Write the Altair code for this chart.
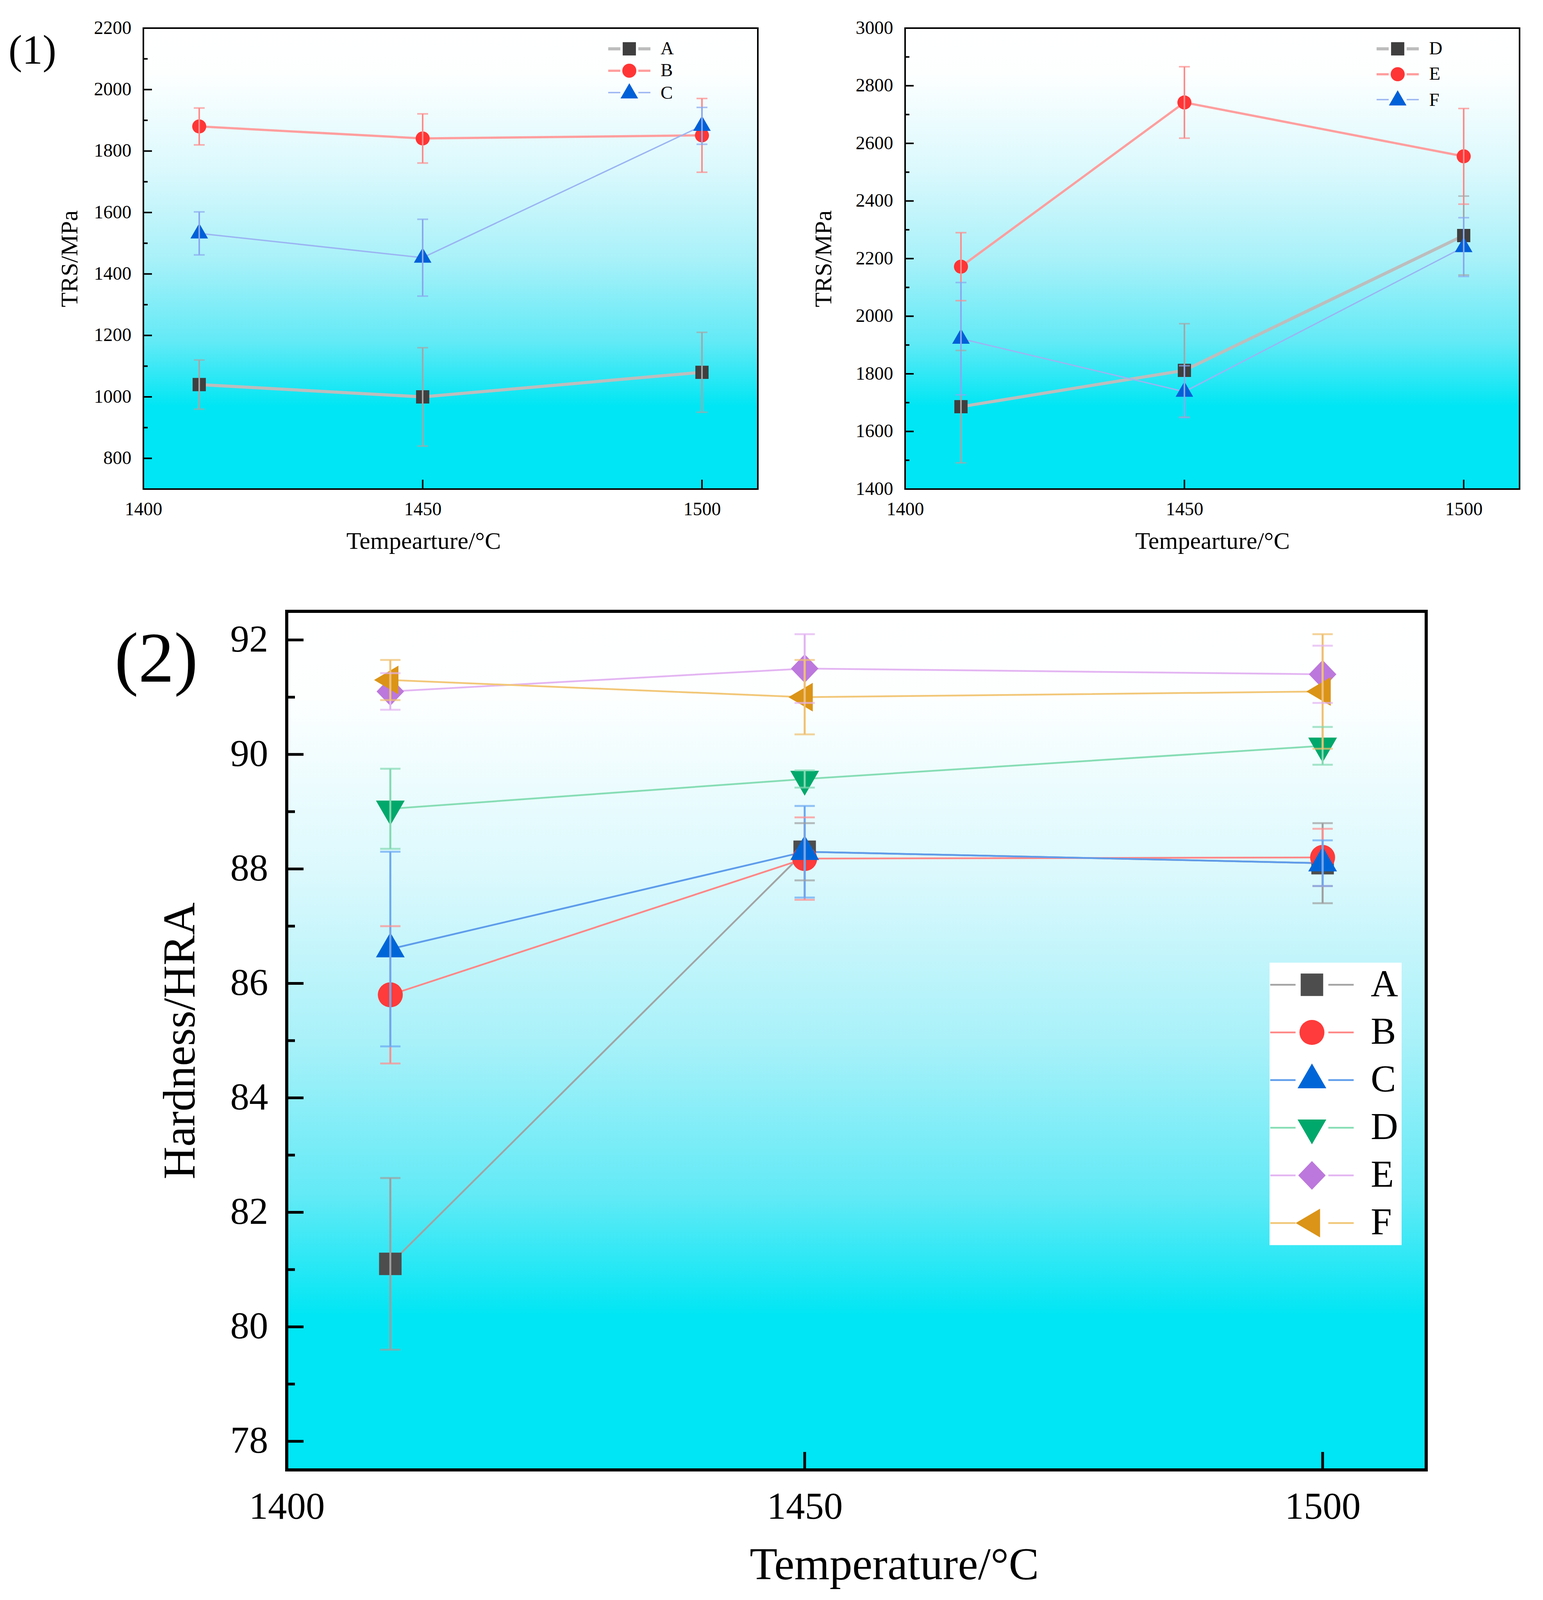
import altair as alt
import pandas as pd

FONT = "Liberation Serif"

# ---------------- data ----------------
temps = [1410, 1450, 1500]
x_ticks = [1400, 1450, 1500]

# (1) left panel : TRS of A, B, C
trs_left_series = ["A", "B", "C"]
trs_A = [1040, 1000, 1080]
trs_A_err = [80, 160, 130]
trs_B = [1880, 1841, 1851]
trs_B_err = [60, 80, 120]
trs_C = [1532, 1453, 1882]
trs_C_err = [70, 125, 60]

# (1) right panel : TRS of D, E, F
trs_right_series = ["D", "E", "F"]
trs_D = [1686, 1812, 2280]
trs_D_err = [195, 162, 137]
trs_E = [2172, 2742, 2555]
trs_E_err = [118, 124, 166]
trs_F = [1922, 1738, 2240]
trs_F_err = [195, 90, 102]

# (2) hardness of A..F
hard_series = ["A", "B", "C", "D", "E", "F"]
hra_A = [81.1, 88.3, 88.1]
hra_A_err = [1.5, 0.5, 0.7]
hra_B = [85.8, 88.18, 88.2]
hra_B_err = [1.2, 0.72, 0.5]
hra_C = [86.6, 88.3, 88.1]
hra_C_err = [1.7, 0.8, 0.4]
hra_D = [89.05, 89.57, 90.15]
hra_D_err = [0.7, 0.15, 0.33]
hra_E = [91.1, 91.5, 91.4]
hra_E_err = [0.32, 0.6, 0.5]
hra_F = [91.3, 91.0, 91.1]
hra_F_err = [0.35, 0.65, 1.0]

trs_left_major = [800, 1000, 1200, 1400, 1600, 1800, 2000, 2200]
trs_left_minor = [900, 1100, 1300, 1500, 1700, 1900, 2100]
trs_right_major = [1400, 1600, 1800, 2000, 2200, 2400, 2600, 2800, 3000]
trs_right_minor = [1500, 1700, 1900, 2100, 2300, 2500, 2700, 2900]
hra_major = [78, 80, 82, 84, 86, 88, 90, 92]
hra_minor = [79, 81, 83, 85, 87, 89, 91]


def long_df(series, values, errors):
    rows = []
    for s, vals, errs in zip(series, values, errors):
        for t, v, e in zip(temps, vals, errs):
            rows.append({"series": s, "T": t, "val": v, "lo": v - e, "hi": v + e})
    return pd.DataFrame(rows)


df_left = long_df(trs_left_series, [trs_A, trs_B, trs_C], [trs_A_err, trs_B_err, trs_C_err])
df_right = long_df(trs_right_series, [trs_D, trs_E, trs_F], [trs_D_err, trs_E_err, trs_F_err])
df_hra = long_df(hard_series, [hra_A, hra_B, hra_C, hra_D, hra_E, hra_F],
                 [hra_A_err, hra_B_err, hra_C_err, hra_D_err, hra_E_err, hra_F_err])

# ---------------- styles ----------------
GRAD = alt.LinearGradient(
    gradient="linear", x1=0, x2=0, y1=0, y2=1,
    stops=[alt.GradientStop(offset=o, color=c) for o, c in [
        (0.0, "#FFFFFF"), (0.1, "#FDFFFF"), (0.3, "#DCF9FD"), (0.5, "#A9F1F9"),
        (0.68, "#62EAF6"), (0.82, "#00E6F4"), (1.0, "#00E6F4")]])

SQ_S = "M-0.94,-0.94H0.94V0.94H-0.94Z"
TRI_S = "M0,-1.44L1.25,0.72L-1.25,0.72Z"
SQ_L = "M-0.9,-0.9H0.9V0.9H-0.9Z"
TRI_UP = "M0,-1.33L1.15,0.66L-1.15,0.66Z"
TRI_DN = "M0,1.33L1.15,-0.66L-1.15,-0.66Z"
DIAM = "M0,-1.15L1.1,0L0,1.15L-1.1,0Z"
TRI_LT = "M-1.3,0L0.65,-1.15L0.65,1.15Z"

style_left = dict(
    W=1573, H=1180, ydomain=[700, 2200], ymajor=trs_left_major, yminor=trs_left_minor,
    xtitle="Tempearture/°C", ytitle="TRS/MPa",
    lab=48, tit=62, xlabpad=28, ylabpad=31, xtitpad=27, ytitpad=30, titleX=717,
    tmaj=22, tmin=11, tw=4, txl=24, fw=4,
    line_colors=["#BDBDBD", "#FF9E9E", "#9BB4F2"], line_widths=[8, 3.5, 3.5],
    mk_colors=["#3F3F3F", "#FF3535", "#0060D8"], shapes=[SQ_S, "circle", TRI_S], psize=1296,
    eb_colors=["#A6A6A6", "#FF8A8A", "#8AA8EE"], ebw=4, capw=28, capt=4,
    legX=1220.5, legY=29.5, legPad=0, rowPad=8, legFont=47, labOff=56.5, symOff=0,
    legLine="M-3.0,0H-1.28M1.28,0H3.0", legLineW=3.5, legFill=None,
    tag="(1)", tagX=-284, tagY=59, tagSize=105,
)

style_right = dict(style_left)
style_right.update(
    ydomain=[1400, 3000], ymajor=trs_right_major, yminor=trs_right_minor,
    ytitpad=50, titleX=None, legX=1237.5, legY=29.5, rowPad=17, labOff=57, tag=None,
)

style_hra = dict(
    W=2917, H=2198, ydomain=[77.5, 92.5], ymajor=hra_major, yminor=hra_minor,
    xtitle="Temperature/°C", ytitle="Hardness/HRA",
    lab=97, tit=116, xlabpad=47, ylabpad=48, xtitpad=44, ytitpad=68, titleX=1555,
    tmaj=43, tmin=21, tw=7, txl=46, fw=8,
    line_colors=["#A3A3A3", "#FF8787", "#5E9CEB", "#86DDB5", "#E3B5F2", "#F2C778"],
    line_widths=[4.5, 4.5, 4.5, 4.5, 4.5, 4.5],
    mk_colors=["#4D4D4D", "#FF3B3B", "#0066D8", "#00A86B", "#BC78DC", "#DB9417"],
    shapes=[SQ_L, "circle", TRI_UP, TRI_DN, DIAM, TRI_LT], psize=4096,
    eb_colors=["#9E9E9E", "#FF8F8F", "#6AA8F2", "#82D9B2", "#E2B3F2", "#F0C070"],
    ebw=5, capw=52, capt=5,
    legX=2516, legY=899.5, legPad=8, rowPad=24, legFont=97, labOff=102, symOff=52,
    legLine="M-3.34,0H-1.31M1.31,0H3.34", legLineW=6.5, legFill="white",
    tag="(2)", tagX=-334, tagY=125, tagSize=183,
)


def panel(df, series, st):
    W, H = st["W"], st["H"]
    one = pd.DataFrame({"k": [0]})
    xs = alt.Scale(domain=[1400, 1510], nice=False, zero=False)
    ys = alt.Scale(domain=st["ydomain"], nice=False, zero=False)
    xkw = dict(title=st["xtitle"], values=x_ticks, format="d", ticks=False, domain=False, grid=False,
               labelFont=FONT, labelFontSize=st["lab"], labelColor="black", labelPadding=st["xlabpad"],
               labelFlush=False, labelOverlap=False, labelLimit=600,
               titleFont=FONT, titleFontSize=st["tit"], titleFontWeight="normal", titleColor="black",
               titlePadding=st["xtitpad"])
    if st["titleX"] is not None:
        xkw["titleX"] = st["titleX"]
    ax_x = alt.Axis(**xkw)
    ax_y = alt.Axis(title=st["ytitle"], values=st["ymajor"], format="d", ticks=False, domain=False, grid=False,
                    labelFont=FONT, labelFontSize=st["lab"], labelColor="black", labelPadding=st["ylabpad"],
                    labelOverlap=False, labelLimit=600,
                    titleFont=FONT, titleFontSize=st["tit"], titleFontWeight="normal", titleColor="black",
                    titlePadding=st["ytitpad"])
    X = alt.X("T:Q", scale=xs, axis=ax_x)

    bg = alt.Chart(one).mark_rect(fill=GRAD).encode(
        x=alt.value(0), x2=alt.value(W), y=alt.value(0), y2=alt.value(H))

    ymaj = alt.Chart(pd.DataFrame({"v": st["ymajor"]})).mark_rule(color="black", strokeWidth=st["tw"]).encode(
        y=alt.Y("v:Q", scale=ys, axis=ax_y), x=alt.value(0), x2=alt.value(st["tmaj"]))
    ymin = alt.Chart(pd.DataFrame({"v": st["yminor"]})).mark_rule(color="black", strokeWidth=st["tw"]).encode(
        y=alt.Y("v:Q", scale=ys, axis=ax_y), x=alt.value(0), x2=alt.value(st["tmin"]))
    xt = alt.Chart(pd.DataFrame({"v": x_ticks})).mark_rule(color="black", strokeWidth=st["tw"]).encode(
        x=alt.X("v:Q", scale=xs, axis=ax_x), y=alt.value(H), y2=alt.value(H - st["txl"]))

    common_leg = dict(title=None, orient="none", legendX=st["legX"], legendY=st["legY"],
                      padding=st["legPad"], rowPadding=st["rowPad"], labelFont=FONT,
                      labelFontSize=st["legFont"], labelOffset=st["labOff"], symbolOffset=st["symOff"],
                      symbolSize=st["psize"])
    line_leg_kw = dict(common_leg, symbolType=st["legLine"], symbolStrokeWidth=st["legLineW"],
                       labelOpacity=0, labelColor="black")
    if st["legFill"]:
        line_leg_kw["fillColor"] = st["legFill"]
    line_leg = alt.Legend(**line_leg_kw)
    pt_leg = alt.Legend(**common_leg, symbolStrokeWidth=0, labelColor="black", symbolOpacity=1)

    lines = alt.Chart(df).mark_line().encode(
        x=X, y=alt.Y("val:Q", scale=ys, axis=ax_y),
        color=alt.Color("series:N", scale=alt.Scale(domain=series, range=st["line_colors"]), legend=line_leg),
        strokeWidth=alt.StrokeWidth("series:N", scale=alt.Scale(domain=series, range=st["line_widths"]),
                                    legend=None),
    )
    pts = alt.Chart(df).mark_point(filled=True, opacity=1, size=st["psize"]).encode(
        x=X, y=alt.Y("val:Q", scale=ys, axis=ax_y),
        color=alt.Color("series:N", scale=alt.Scale(domain=series, range=st["mk_colors"]), legend=pt_leg),
        shape=alt.Shape("series:N", scale=alt.Scale(domain=series, range=st["shapes"]), legend=pt_leg),
    )
    eb_color = alt.Color("series:N", scale=alt.Scale(domain=series, range=st["eb_colors"]), legend=None)
    eb = alt.Chart(df).mark_rule(strokeWidth=st["ebw"]).encode(
        x=X, y=alt.Y("lo:Q", scale=ys, axis=ax_y), y2=alt.Y2("hi:Q"), color=eb_color)
    cap_lo = alt.Chart(df).mark_tick(orient="horizontal", size=st["capw"], thickness=st["capt"]).encode(
        x=X, y=alt.Y("lo:Q", scale=ys, axis=ax_y), color=eb_color)
    cap_hi = alt.Chart(df).mark_tick(orient="horizontal", size=st["capw"], thickness=st["capt"]).encode(
        x=X, y=alt.Y("hi:Q", scale=ys, axis=ax_y), color=eb_color)

    frame = alt.Chart(one).mark_rect(fill="transparent", stroke="black", strokeWidth=st["fw"]).encode(
        x=alt.value(0), x2=alt.value(W), y=alt.value(0), y2=alt.value(H))

    layers = [bg, ymaj, ymin, xt, lines, pts, eb, cap_lo, cap_hi, frame]
    if st["tag"]:
        layers.append(alt.Chart(one).mark_text(text=st["tag"], font=FONT, fontSize=st["tagSize"],
                                               align="center", baseline="middle", color="black").encode(
            x=alt.value(st["tagX"]), y=alt.value(st["tagY"])))

    return alt.layer(*layers).resolve_scale(
        color="independent", shape="independent", strokeWidth="independent"
    ).properties(width=W, height=H)


p1 = panel(df_left, trs_left_series, style_left)
p2 = panel(df_right, trs_right_series, style_right)
p3 = panel(df_hra, hard_series, style_hra)

# tiny empty cell that shifts panel (2) to the right of panel (1)'s origin
spacer = alt.Chart(pd.DataFrame({"k": [0]})).mark_point(opacity=0, size=1).encode(
    x=alt.value(0), y=alt.value(0)).properties(width=1, height=1)

top_row = alt.hconcat(p1, p2, spacing=377, bounds="flush")
bottom_row = alt.hconcat(spacer, p3, spacing=366, bounds="flush")

chart = alt.vconcat(top_row, bottom_row, spacing=143).properties(
    padding={"left": 13, "top": 39, "right": 5, "bottom": 5},
    background="white",
).configure_view(stroke="transparent")

chart.save("out.html", embed_options={"renderer": "svg", "actions": False})
